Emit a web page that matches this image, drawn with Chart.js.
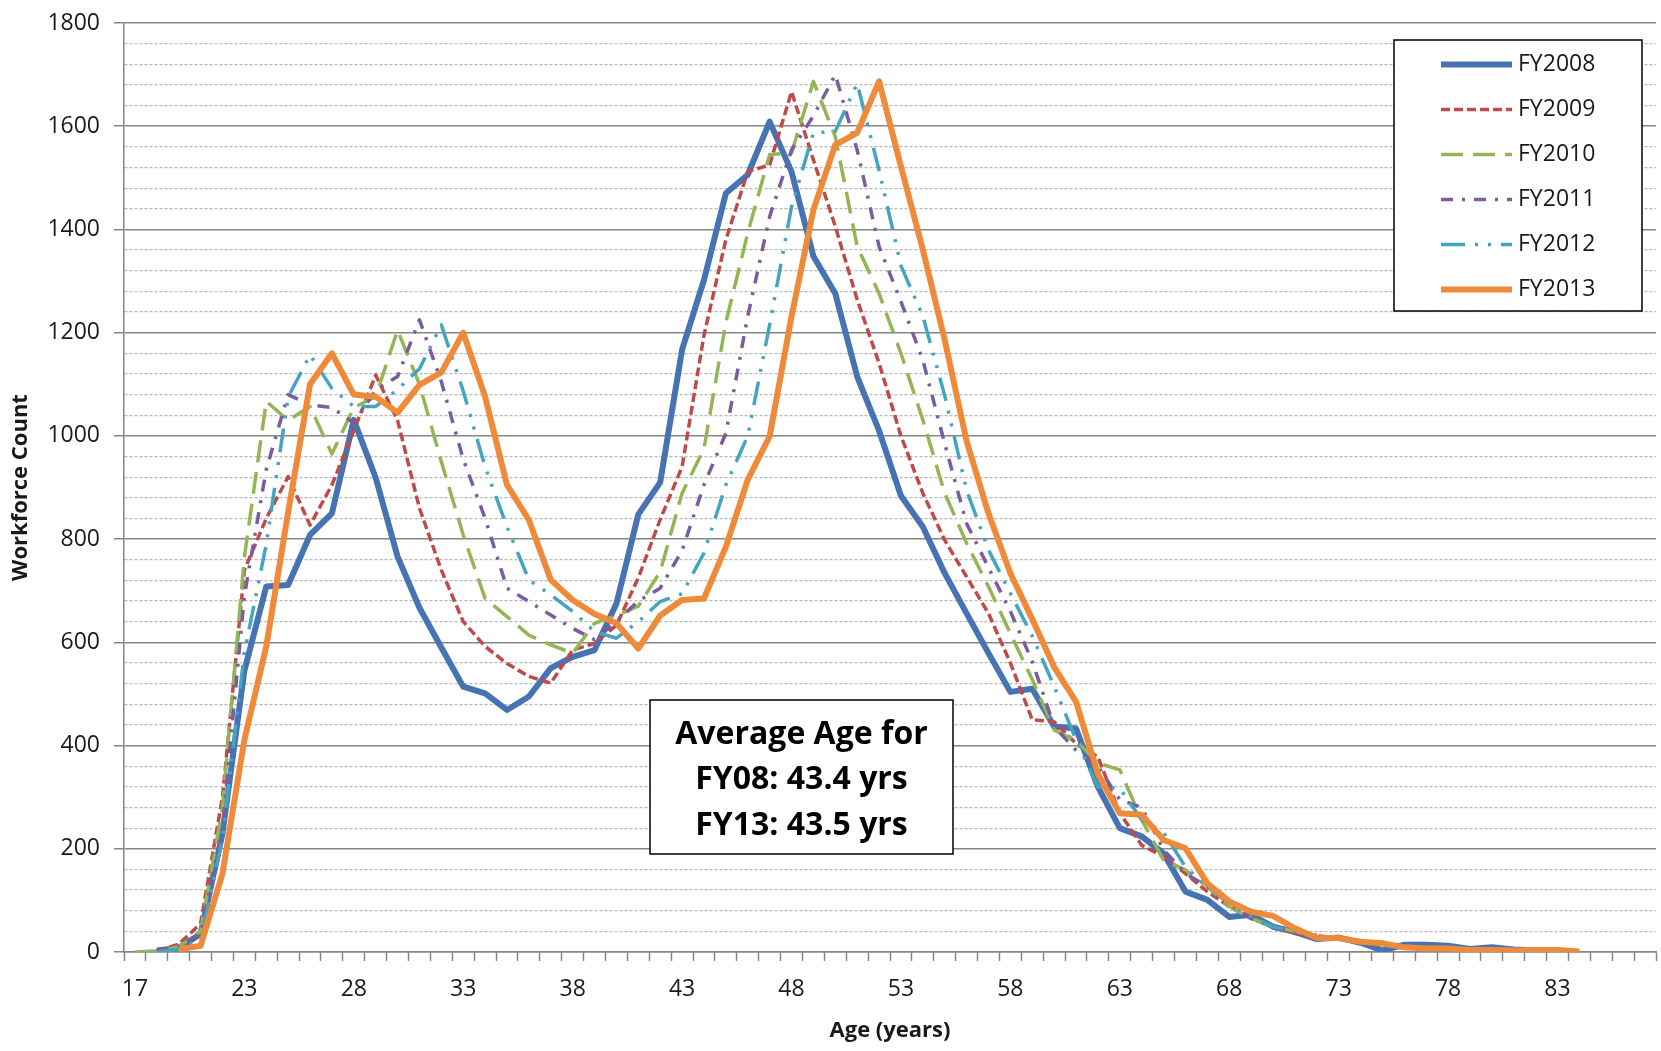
<!DOCTYPE html>
<html>
<head>
<meta charset="utf-8">
<title>Workforce Count by Age</title>
<script src="https://cdn.jsdelivr.net/npm/chart.js@4.4.1/dist/chart.umd.min.js"></script>
<style>
  html, body { margin: 0; padding: 0; background: #fff; }
  #wrap { width: 1661px; height: 1051px; }
</style>
</head>
<body>
<div id="wrap"><canvas id="ageChart" width="1661" height="1051"></canvas></div>
<script>
// Age categories (only every 5th one gets a label)
const ages = [17, 19, 20, 21, 22, 23, 24, 25, 26, 27, 28, 29, 30, 31, 32, 33, 34, 35, 36, 37,
              38, 39, 40, 41, 42, 43, 44, 45, 46, 47, 48, 49, 50, 51, 52, 53, 54, 55, 56, 57,
              58, 59, 60, 61, 62, 63, 64, 65, 66, 67, 68, 69, 70, 71, 72, 73, 74, 75, 76, 77,
              78, 79, 80, 81, 82, 83, 84, 85, 86, 87];

// Workforce count per age
const fy2008 = [null, 3, 8, 35, 230, 545, 708, 711, 808, 850, 1031, 919, 766, 667, 590, 514, 501, 469, 495, 550,
                572, 585, 675, 848, 910, 1167, 1302, 1470, 1506, 1609, 1512, 1348, 1276, 1115, 1010, 884, 824, 734, 656, 579,
                504, 510, 437, 433, 320, 240, 224, 191, 117, 101, 68, 72, 49, 39, 25, 28, 18, 3, 14, 14,
                12, 6, 9, 5, 3, 2];
const fy2009 = [null, 2, 15, 55, 300, 740, 840, 921, 827, 905, 1010, 1118, 1030, 860, 740, 640, 592, 559, 534, 521,
                585, 598, 633, 725, 838, 940, 1195, 1380, 1512, 1525, 1667, 1535, 1406, 1264, 1141, 1000, 889, 798, 727, 656,
                560, 450, 446, 404, 378, 269, 207, 185, 152, 117, 88, 65, 49, 36, 30, 25, 20, 15, 10, 8,
                6, 5, 5, 4, 3, 2];
const fy2010 = [0, 2, 10, 40, 280, 765, 1067, 1030, 1057, 965, 1055, 1076, 1205, 1100, 950, 808, 685, 650, 614, 595,
                579, 637, 652, 670, 737, 889, 975, 1220, 1393, 1545, 1548, 1687, 1580, 1367, 1276, 1160, 1031, 889, 792, 708,
                617, 528, 430, 410, 366, 353, 256, 178, 159, 127, 88, 65, 49, 40, 30, 25, 20, 14, 10, 8,
                6, 5, 4, 3, 2];
const fy2011 = [null, 2, 10, 35, 240, 690, 935, 1080, 1060, 1055, 1025, 1089, 1115, 1225, 1105, 955, 840, 705, 679, 653,
                627, 605, 640, 680, 705, 778, 905, 1005, 1232, 1425, 1554, 1620, 1700, 1554, 1367, 1260, 1147, 985, 830, 745,
                660, 563, 437, 391, 360, 295, 280, 198, 152, 127, 94, 65, 49, 40, 32, 25, 20, 15, 11, 8,
                6, 5, 4, 3, 2, 1];
const fy2012 = [null, 0, 5, 25, 220, 580, 790, 1075, 1157, 1092, 1057, 1057, 1090, 1130, 1215, 1087, 940, 824, 721, 692,
                660, 621, 608, 640, 679, 694, 773, 905, 1000, 1215, 1444, 1587, 1590, 1683, 1515, 1330, 1232, 1078, 895, 779,
                695, 612, 515, 411, 320, 317, 256, 232, 165, 127, 94, 68, 49, 40, 32, 26, 20, 15, 11, 8,
                6, 5, 4, 3, 2, 1];
const fy2013 = [null, null, 5, 12, 152, 411, 592, 852, 1100, 1160, 1080, 1076, 1045, 1099, 1123, 1200, 1076, 905, 837, 721,
                682, 655, 637, 588, 652, 682, 685, 785, 915, 999, 1231, 1438, 1564, 1587, 1687, 1522, 1361, 1186, 990, 850,
                734, 645, 552, 485, 345, 269, 266, 217, 201, 133, 98, 78, 70, 46, 27, 27, 20, 17, 9, 7,
                7, 4, 4, 3, 4, 4, 1];

const seriesNames = ['FY2008', 'FY2009', 'FY2010', 'FY2011', 'FY2012', 'FY2013'];
const noteLines = ['Average Age for', 'FY08: 43.4 yrs', 'FY13: 43.5 yrs'];

const FONT = '"Open Sans", "DejaVu Sans", sans-serif';
const axisGray = '#868686';
const minorGray = '#b8b8b8';

Chart.defaults.font.family = FONT;
Chart.defaults.color = '#1a1a1a';

// legend box drawn inside the plot, top right, like the Excel one
const legendBox = {
  id: 'legendBox',
  afterDatasetsDraw(chart) {
    const { ctx, chartArea } = chart;
    const x0 = chartArea.right - 262, y0 = chartArea.top + 17, w = 248, h = 271;
    ctx.save();
    ctx.fillStyle = '#fff';
    ctx.fillRect(x0, y0, w, h);
    ctx.strokeStyle = '#000';
    ctx.lineWidth = 1.5;
    ctx.strokeRect(x0, y0, w, h);
    chart.data.datasets.forEach((ds, i) => {
      const y = y0 + 24.5 + i * 45;
      ctx.beginPath();
      ctx.setLineDash(ds.borderDash || []);
      ctx.strokeStyle = ds.borderColor;
      ctx.lineWidth = ds.borderWidth;
      ctx.lineCap = 'butt';
      ctx.moveTo(x0 + 47, y);
      ctx.lineTo(x0 + 118, y);
      ctx.stroke();
      ctx.setLineDash([]);
      ctx.fillStyle = '#1a1a1a';
      ctx.font = '23px ' + FONT;
      ctx.textBaseline = 'middle';
      ctx.textAlign = 'left';
      ctx.fillText(ds.label, x0 + 124, y);
    });
    ctx.restore();
  }
};

// text box with the average ages
const noteBox = {
  id: 'noteBox',
  afterDatasetsDraw(chart) {
    const { ctx, chartArea } = chart;
    const x0 = chartArea.left + 526, y0 = chartArea.top + 677, w = 303, h = 154;
    ctx.save();
    ctx.fillStyle = '#fff';
    ctx.fillRect(x0, y0, w, h);
    ctx.strokeStyle = '#000';
    ctx.lineWidth = 1.5;
    ctx.strokeRect(x0, y0, w, h);
    ctx.fillStyle = '#000';
    ctx.font = 'bold 32px ' + FONT;
    ctx.textAlign = 'center';
    ctx.textBaseline = 'middle';
    noteLines.forEach((t, i) => ctx.fillText(t, x0 + w / 2, y0 + 34.5 + i * 45.5));
    ctx.restore();
  }
};

const ctx = document.getElementById('ageChart');
new Chart(ctx, {
  type: 'line',
  data: {
    labels: ages,
    datasets: [
      { label: seriesNames[0], data: fy2008, borderColor: '#4673b2', borderWidth: 6, borderDash: [], order: 5 },
      { label: seriesNames[1], data: fy2009, borderColor: '#be4b48', borderWidth: 3.5, borderDash: [9, 4], order: 4 },
      { label: seriesNames[2], data: fy2010, borderColor: '#94b556', borderWidth: 3.5, borderDash: [22, 10], order: 3 },
      { label: seriesNames[3], data: fy2011, borderColor: '#7b5c9e', borderWidth: 3.5, borderDash: [12, 9, 3, 9], order: 2 },
      { label: seriesNames[4], data: fy2012, borderColor: '#44a5c0', borderWidth: 3.5, borderDash: [24, 10, 3, 10, 3, 10], order: 1 },
      { label: seriesNames[5], data: fy2013, borderColor: '#ee8a3a', borderWidth: 6, borderDash: [], order: 0 }
    ]
  },
  options: {
    responsive: false,
    animation: false,
    devicePixelRatio: 1,
    layout: { padding: { top: 23, right: 5, left: 0, bottom: 0 } },
    elements: {
      point: { radius: 0, hoverRadius: 0 },
      line: { tension: 0, borderJoinStyle: 'round', borderCapStyle: 'butt', fill: false }
    },
    plugins: {
      legend: { display: false },
      tooltip: { enabled: false }
    },
    scales: {
      x: {
        type: 'category',
        offset: true,
        afterFit: s => { s.height = 99; },
        grid: {
          offset: true,
          drawOnChartArea: false,
          drawTicks: true,
          tickLength: 9,
          tickColor: axisGray,
          tickWidth: 1.5
        },
        border: { color: axisGray, width: 1.5 },
        ticks: {
          autoSkip: false,
          maxRotation: 0,
          padding: 15,
          font: { size: 23 },
          callback: function (val, idx) {
            return idx % 5 === 0 ? this.getLabelForValue(val) : '';
          }
        },
        title: {
          display: true,
          text: 'Age (years)',
          font: { size: 22, weight: 'bold' },
          padding: { top: 0, bottom: 7 }
        }
      },
      y: {
        min: 0,
        max: 1800,
        afterFit: s => {
          s.width = 124;
          s.paddingTop = 10;
          s.paddingBottom = 10;
        },
        grid: {
          color: c => (c.tick && c.tick.value % 200 === 0) ? axisGray : minorGray,
          lineWidth: c => (c.tick && c.tick.value % 200 === 0) ? 1.5 : 1.2,
          tickLength: 10,
          tickColor: c => (c.tick && c.tick.value % 200 === 0) ? axisGray : 'rgba(0,0,0,0)',
          tickWidth: 1.5
        },
        border: {
          color: axisGray,
          width: 1.5,
          dash: c => (c.tick && c.tick.value % 200 !== 0) ? [3, 2] : []
        },
        ticks: {
          stepSize: 40,
          maxTicksLimit: 100,
          autoSkip: false,
          padding: 14,
          font: { size: 23 },
          callback: v => (v % 200 === 0 ? v : '')
        },
        title: {
          display: true,
          text: 'Workforce Count',
          font: { size: 22, weight: 'bold' },
          padding: { top: 8, bottom: 0 }
        }
      }
    }
  },
  plugins: [legendBox, noteBox]
});
</script>
</body>
</html>
